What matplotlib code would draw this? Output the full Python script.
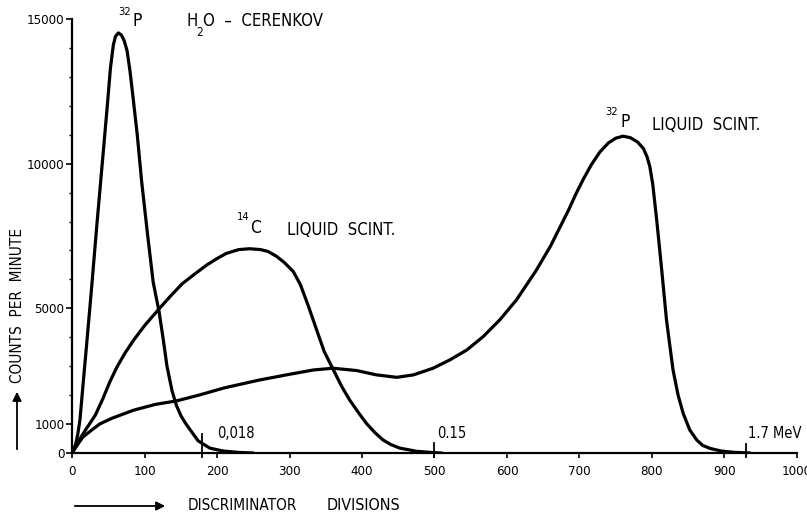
import matplotlib
matplotlib.use("Agg")
import matplotlib.pyplot as plt
from matplotlib.ticker import MultipleLocator, FixedLocator

FONT = ["DejaVu Sans"]
plt.rcParams["font.family"] = FONT
plt.rcParams["font.stretch"] = "condensed"

# 32P in water, Cerenkov counting
cerenkov_x = [0, 5, 8, 11, 15, 20, 27, 34, 41, 48, 53, 57, 60, 64, 68, 72, 76, 80, 84.6,
              90, 96, 104, 112, 120, 126, 131, 138, 144, 150, 156, 163, 174, 190, 208,
              230, 250]
cerenkov_y = [0, 300, 650, 1150, 2300, 3700, 5700, 7800, 9800, 11800, 13300, 14100,
              14400, 14520, 14450, 14250, 13900, 13200, 12200, 11000, 9400, 7600, 5900,
              4900, 3900, 3000, 2150, 1650, 1300, 1050, 800, 420, 170, 70, 20, 0]

# 14C, liquid scintillation
c14_x = [0, 10, 20, 32, 43, 52, 62, 73, 85, 100, 119, 135, 152, 170, 186, 200, 213, 230,
         245, 260, 270, 282, 293, 305, 315, 326, 337.5, 348, 360, 372, 383, 395, 406,
         418, 429, 440, 452, 475, 500, 510]
c14_y = [0, 450, 850, 1300, 1900, 2450, 2970, 3450, 3900, 4400, 4950, 5400, 5850, 6200,
         6500, 6720, 6900, 7030, 7060, 7030, 6970, 6800, 6580, 6280, 5820, 5080, 4250,
         3500, 2900, 2300, 1830, 1400, 1025, 700, 450, 290, 170, 60, 10, 0]

# 32P, liquid scintillation
p32_x = [0, 8, 15, 25, 38, 55, 85, 115, 144, 175, 210, 258, 300, 333, 360, 392.6, 420,
         448, 471, 498, 521, 544.5, 567, 590, 613, 640, 660, 673, 685, 695, 705, 716,
         728, 740, 750, 760, 770, 780, 788, 793, 797, 801, 806.5, 813.4, 820, 829, 836,
         843, 852, 861.7, 870, 880, 895, 912, 935]
p32_y = [0, 300, 550, 750, 1000, 1200, 1480, 1680, 1800, 2000, 2250, 2520, 2720, 2870,
         2930, 2850, 2700, 2615, 2700, 2930, 3215, 3560, 4020, 4600, 5290, 6300, 7150,
         7800, 8400, 8950, 9450, 9950, 10400, 10720, 10880, 10950, 10900, 10750, 10530,
         10250, 9900, 9300, 8050, 6325, 4600, 2870, 2000, 1370, 800, 450, 260, 160, 70,
         25, 0]

# Energy end-points marked on the baseline
endpoint_x = [180, 500, 930]
endpoint_h = [650, 350, 300]
endpoint_labels = ["0,018", "0.15", "1.7 MeV"]

x_ticks = list(range(0, 1001, 100))
y_ticks = [0, 1000, 5000, 10000, 15000]

fig = plt.figure(figsize=(8.07, 5.15), dpi=100)
ax = fig.add_axes([72 / 807, 62 / 515, 725 / 807, 434 / 515])

line_kw = dict(color="black", lw=2.3, solid_capstyle="round", solid_joinstyle="round")
ax.plot(cerenkov_x, cerenkov_y, **line_kw)
ax.plot(c14_x, c14_y, **line_kw)
ax.plot(p32_x, p32_y, **line_kw)

for xm, hm in zip(endpoint_x, endpoint_h):
    ax.plot([xm, xm], [-150, hm], color="black", lw=1.3, clip_on=False)

ax.set_xlim(0, 1000)
ax.set_ylim(0, 15000)
for side in ("top", "right"):
    ax.spines[side].set_visible(False)
for side in ("left", "bottom"):
    ax.spines[side].set_linewidth(1.6)

ax.xaxis.set_major_locator(FixedLocator(x_ticks))
ax.set_xticklabels([str(v) for v in x_ticks])
ax.yaxis.set_major_locator(FixedLocator(y_ticks))
ax.set_yticklabels([str(v) for v in y_ticks])
ax.yaxis.set_minor_locator(MultipleLocator(1000))
ax.tick_params(axis="x", direction="out", length=3.5, width=1.2, pad=5, labelsize=9.5)
ax.tick_params(axis="y", which="major", direction="out", length=4, width=1.2, pad=1.5,
               labelsize=9.5)
ax.tick_params(axis="y", which="minor", direction="out", length=2.2, width=1.0)
for lab in ax.get_xticklabels() + ax.get_yticklabels():
    lab.set_family(FONT)
    lab.set_stretch("condensed")

txt = dict(color="black", family=FONT, stretch="condensed")

# Peak annotations
ax.text(63.4, 15227, "32", fontsize=8, va="center", ha="left", **txt)
ax.text(84, 14933, "P", fontsize=12.5, va="center", ha="left", **txt)
ax.text(158.6, 14915, "H", fontsize=12, va="center", ha="left", **txt)
ax.text(172, 14540, "2", fontsize=8.5, va="center", ha="left", **txt)
ax.text(180.5, 14915, "O  \u2013  CERENKOV", fontsize=12, va="center", ha="left", **txt)

ax.text(227.6, 8158, "14", fontsize=8, va="center", ha="left", **txt)
ax.text(245.5, 7777, "C", fontsize=12.5, va="center", ha="left", **txt)
ax.text(296.6, 7708, "LIQUID  SCINT.", fontsize=12, va="center", ha="left", **txt)

ax.text(735, 11787, "32", fontsize=8, va="center", ha="left", **txt)
ax.text(757, 11441, "P", fontsize=12.5, va="center", ha="left", **txt)
ax.text(800, 11338, "LIQUID  SCINT.", fontsize=12, va="center", ha="left", **txt)

label_offsets = [20, 3, 3]
for xm, lab, dx in zip(endpoint_x, endpoint_labels, label_offsets):
    ax.text(xm + dx, 660, lab, fontsize=10.5, va="center", ha="left", **txt)

# Axis titles with pointing arrows
fig.text(0.0223, 0.256, "COUNTS  PER  MINUTE", rotation=90, ha="center", va="bottom",
         fontsize=11, **txt)
fig.text(188 / 807, 9 / 515, "DISCRIMINATOR", ha="left", va="center", fontsize=11, **txt)
fig.text(327 / 807, 9 / 515, "DIVISIONS", ha="left", va="center", fontsize=11.5, **txt)

arrow = dict(arrowstyle="-|>", color="black", lw=1.3, mutation_scale=13)
fig.add_artist(matplotlib.patches.FancyArrowPatch((17 / 807, 63 / 515), (17 / 807, 126 / 515),
                                                  transform=fig.transFigure, **arrow))
fig.add_artist(matplotlib.patches.FancyArrowPatch((72 / 807, 9 / 515), (168 / 807, 9 / 515),
                                                  transform=fig.transFigure, **arrow))

fig.savefig("out.png", dpi=100, facecolor="white")
